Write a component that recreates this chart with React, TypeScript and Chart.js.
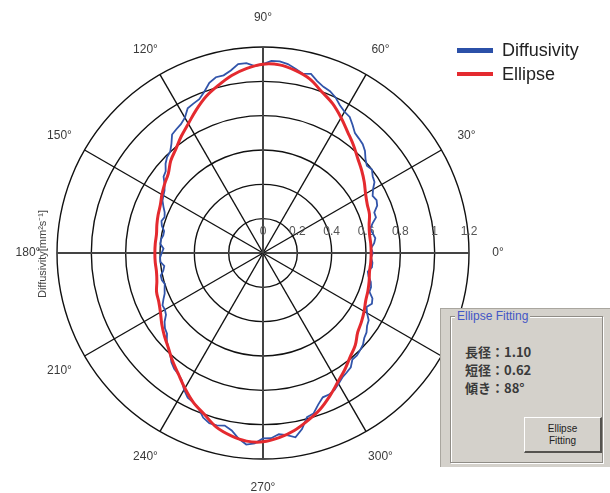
import React, { useEffect, useRef } from 'react';
import { Chart, registerables } from 'chart.js';

Chart.register(...registerables);

// directions (deg, counter-clockwise from the right) where the diffusivity was read
const DIFF_ANGLES = [
  0, 2.5, 5, 7.5, 10, 12.5, 15, 17.5, 20, 22.5, 25, 27.5, 30, 32.5, 35, 37.5, 40, 42.5,
  45, 47.5, 50, 52.5, 55, 57.5, 60, 62.5, 65, 67.5, 70, 72.5, 75, 77.5, 80, 82.5, 85, 87.5,
  90, 92.5, 95, 97.5, 100, 102.5, 105, 107.5, 110, 112.5, 115, 117.5, 120, 122.5, 125, 127.5, 130, 132.5,
  135, 137.5, 140, 142.5, 145, 147.5, 150, 152.5, 155, 157.5, 160, 162.5, 165, 167.5, 170, 172.5, 175, 177.5,
  180, 182.5, 185, 187.5, 190, 192.5, 195, 197.5, 200, 202.5, 205, 207.5, 210, 212.5, 215, 217.5, 220, 222.5,
  225, 227.5, 230, 232.5, 235, 237.5, 240, 242.5, 245, 247.5, 250, 252.5, 255, 257.5, 260, 262.5, 265, 267.5,
  270, 272.5, 275, 277.5, 280, 282.5, 285, 287.5, 290, 292.5, 295, 297.5, 300, 302.5, 305, 307.5, 310, 312.5,
  315, 317.5, 320, 322.5, 325, 327.5, 330, 332.5, 335, 337.5, 340, 342.5, 345, 347.5, 350, 352.5, 355, 357.5,
];

// measured diffusivity [mm²/s]
const DIFFUSIVITY = [
  0.64, 0.63, 0.65, 0.66, 0.65, 0.64, 0.66, 0.69, 0.69, 0.72, 0.73, 0.72, 0.74, 0.77, 0.78, 0.8, 0.79, 0.81,
  0.84, 0.86, 0.87, 0.88, 0.91, 0.94, 0.95, 0.97, 1.0, 1.02, 1.03, 1.05, 1.08, 1.07, 1.09, 1.11, 1.12, 1.12,
  1.1, 1.09, 1.11, 1.11, 1.08, 1.06, 1.06, 1.04, 1.0, 0.97, 0.96, 0.95, 0.91, 0.89, 0.88, 0.87, 0.83, 0.8,
  0.79, 0.77, 0.74, 0.73, 0.7, 0.68, 0.67, 0.66, 0.64, 0.62, 0.61, 0.62, 0.61, 0.59, 0.59, 0.6, 0.6, 0.58,
  0.59, 0.6, 0.6, 0.58, 0.59, 0.61, 0.61, 0.6, 0.61, 0.62, 0.64, 0.66, 0.66, 0.67, 0.7, 0.72, 0.73, 0.76,
  0.78, 0.8, 0.83, 0.85, 0.86, 0.88, 0.92, 0.95, 0.96, 0.98, 1.02, 1.04, 1.04, 1.03, 1.05, 1.09, 1.12, 1.11,
  1.08, 1.08, 1.06, 1.07, 1.09, 1.05, 0.99, 0.98, 0.94, 0.91, 0.91, 0.9, 0.88, 0.86, 0.85, 0.84, 0.81, 0.81,
  0.8, 0.79, 0.77, 0.76, 0.74, 0.73, 0.7, 0.68, 0.7, 0.69, 0.66, 0.66, 0.65, 0.63, 0.62, 0.64, 0.64, 0.63,
];

// directions where the fitted ellipse was read
const ELLIPSE_ANGLES = [
  0, 5, 10, 15, 20, 25, 30, 35, 40, 45, 50, 55, 60, 65, 70, 75, 80, 85,
  90, 95, 100, 105, 110, 115, 120, 125, 130, 135, 140, 145, 150, 155, 160, 165, 170, 175,
  180, 185, 190, 195, 200, 205, 210, 215, 220, 225, 230, 235, 240, 245, 250, 255, 260, 265,
  270, 275, 280, 285, 290, 295, 300, 305, 310, 315, 320, 325, 330, 335, 340, 345, 350, 355,
];

const ELLIPSE = [
  0.63, 0.63, 0.63, 0.64, 0.66, 0.67, 0.69, 0.72, 0.75, 0.78, 0.82, 0.86, 0.91, 0.96, 1.0, 1.05, 1.08, 1.1,
  1.1, 1.08, 1.05, 1.01, 0.97, 0.92, 0.87, 0.83, 0.79, 0.76, 0.72, 0.7, 0.68, 0.66, 0.65, 0.64, 0.63, 0.63,
  0.63, 0.63, 0.63, 0.64, 0.66, 0.67, 0.69, 0.72, 0.75, 0.78, 0.82, 0.86, 0.91, 0.96, 1.0, 1.05, 1.08, 1.1,
  1.1, 1.08, 1.05, 1.01, 0.97, 0.92, 0.87, 0.83, 0.79, 0.76, 0.72, 0.7, 0.68, 0.66, 0.65, 0.64, 0.63, 0.63,
];

const SPOKE_ANGLES = [0, 30, 60, 90, 120, 150, 180, 210, 240, 270, 300, 330];
const TICK_VALUES = [0, 0.2, 0.4, 0.6, 0.8, 1.0, 1.2];
const TICK_LABELS = ['0', '0.2', '0.4', '0.6', '0.8', '1', '1.2'];
const AXIS_TITLE = 'Diffusivity[mm²s⁻¹]';
const FIT_LINES = ['長径：1.10', '短径：0.62', '傾き：88°'];

const STEP = 2.5;
const N = DIFF_ANGLES.length;

// radar puts index 0 on top and runs clockwise, the plot runs counter-clockwise from the right
const slot = (deg: number) => ((90 - deg) / STEP + N * 2) % N;

const toRadar = (angles: number[], values: any[]) => {
  const out = new Array(N).fill(null);
  angles.forEach((a, k) => {
    out[slot(a)] = values[k];
  });
  return out;
};

const RADAR_LABELS: number[] = toRadar(DIFF_ANGLES, DIFF_ANGLES);

const LABEL_FONT = "'Liberation Sans', Arial, sans-serif";

const polarText = {
  id: 'polarText',
  beforeDatasetsDraw(chart: any) {
    const scale = chart.scales.r;
    const ctx = chart.ctx;
    ctx.save();
    ctx.textAlign = 'center';
    ctx.textBaseline = 'middle';

    // tick values along the 0° axis
    ctx.font = `12px ${LABEL_FONT}`;
    ctx.fillStyle = '#555';
    TICK_VALUES.forEach((v, i) => {
      const p = scale.getPointPositionForValue(slot(0), v);
      ctx.fillText(TICK_LABELS[i], p.x, p.y - 21);
    });

    // direction labels
    ctx.fillStyle = '#3a3a3a';
    SPOKE_ANGLES.forEach((a) => {
      const p = scale.getPointPosition(slot(a), scale.drawingArea + 29);
      ctx.fillText(`${a}°`, p.x, p.y);
    });

    // axis title
    ctx.translate(scale.xCenter - 220, scale.yCenter + 1);
    ctx.rotate(-Math.PI / 2);
    ctx.font = `11px ${LABEL_FONT}`;
    ctx.fillStyle = '#444';
    ctx.fillText(AXIS_TITLE, 0, 0);
    ctx.restore();
  },
};

const PolarChart: React.FC = () => {
  const canvasRef = useRef<HTMLCanvasElement>(null);
  const chartInstance = useRef<Chart | null>(null);

  useEffect(() => {
    if (!canvasRef.current) return;
    if (chartInstance.current) chartInstance.current.destroy();

    chartInstance.current = new Chart(canvasRef.current, {
      type: 'radar',
      data: {
        labels: RADAR_LABELS,
        datasets: [
          {
            label: 'Ellipse',
            data: toRadar(ELLIPSE_ANGLES, ELLIPSE),
            borderColor: '#e42a2f',
            borderWidth: 3,
            pointRadius: 0,
            pointHitRadius: 0,
            fill: false,
            spanGaps: true,
            tension: 0.35,
          },
          {
            label: 'Diffusivity',
            data: toRadar(DIFF_ANGLES, DIFFUSIVITY),
            borderColor: '#3154aa',
            borderWidth: 1.8,
            pointRadius: 0,
            pointHitRadius: 0,
            fill: false,
            tension: 0,
          },
        ],
      },
      options: {
        responsive: false,
        animation: false,
        layout: { padding: { left: 57, top: 47, right: 141, bottom: 34 } },
        plugins: {
          legend: { display: false },
          tooltip: { enabled: false },
        },
        scales: {
          r: {
            min: 0,
            max: 1.2,
            startAngle: 0,
            ticks: { display: false, stepSize: 0.2 },
            grid: { circular: true, color: '#111', lineWidth: 1.4 },
            angleLines: {
              display: true,
              color: (c: any) => (RADAR_LABELS[c.index] % 90 === 0 ? '#444' : '#111'),
              lineWidth: (c: any) => {
                const a = RADAR_LABELS[c.index];
                if (a % 30 !== 0) return 0;
                return a % 90 === 0 ? 2 : 1.4;
              },
            },
            pointLabels: { display: false },
          },
        },
      } as any,
      plugins: [polarText],
    });

    return () => {
      if (chartInstance.current) {
        chartInstance.current.destroy();
        chartInstance.current = null;
      }
    };
  }, []);

  return <canvas ref={canvasRef} width={610} height={493} />;
};

const panelBg = '#d4d1cb';

export default function App() {
  return (
    <div style={{ position: 'absolute', left: 0, top: 0, width: 610, height: 493, background: '#fff', overflow: 'hidden' }}>
      <PolarChart />

      {/* legend */}
      <div style={{ position: 'absolute', left: 457, top: 38, font: `18px ${LABEL_FONT}`, color: '#222' }}>
        <div style={{ display: 'flex', alignItems: 'center', height: 24 }}>
          <div style={{ width: 36, height: 5, background: '#2b50a8', marginRight: 9 }} />
          <span>Diffusivity</span>
        </div>
        <div style={{ display: 'flex', alignItems: 'center', height: 24 }}>
          <div style={{ width: 36, height: 4, background: '#e42a2f', marginRight: 9 }} />
          <span>Ellipse</span>
        </div>
      </div>

      {/* fitting result panel */}
      <div
        style={{
          position: 'absolute',
          left: 440,
          top: 308,
          width: 170,
          height: 159,
          background: panelBg,
          boxShadow: 'inset 1px 1px 0 #a9a69f',
        }}
      >
        <div
          style={{
            position: 'absolute',
            left: 10,
            top: 8,
            width: 153,
            height: 147,
            boxSizing: 'border-box',
            border: '1px solid #8f8c86',
            boxShadow: '1px 1px 0 #fff, inset 1px 1px 0 #fff',
          }}
        />
        <div
          style={{
            position: 'absolute',
            left: 15,
            top: 1,
            padding: '0 2px',
            background: panelBg,
            color: '#4356c6',
            font: `12px ${LABEL_FONT}`,
            lineHeight: '14px',
          }}
        >
          Ellipse Fitting
        </div>
        {FIT_LINES.map((t, i) => (
          <div
            key={t}
            style={{
              position: 'absolute',
              left: 25,
              top: 35 + i * 18,
              lineHeight: '18px',
              fontFamily: "'Noto Sans CJK JP', sans-serif",
              fontSize: 13,
              fontWeight: 'bold',
              color: '#3a3a3a',
              whiteSpace: 'nowrap',
            }}
          >
            {t}
          </div>
        ))}
        <div
          style={{
            position: 'absolute',
            left: 84,
            top: 109,
            width: 78,
            height: 36,
            boxSizing: 'border-box',
            background: panelBg,
            borderTop: '1px solid #fff',
            borderLeft: '1px solid #fff',
            borderRight: '2px solid #55534f',
            borderBottom: '2px solid #55534f',
            display: 'flex',
            alignItems: 'center',
            justifyContent: 'center',
            textAlign: 'center',
            font: `10px ${LABEL_FONT}`,
            lineHeight: '12px',
            color: '#222',
          }}
        >
          Ellipse
          <br />
          Fitting
        </div>
      </div>
    </div>
  );
}
